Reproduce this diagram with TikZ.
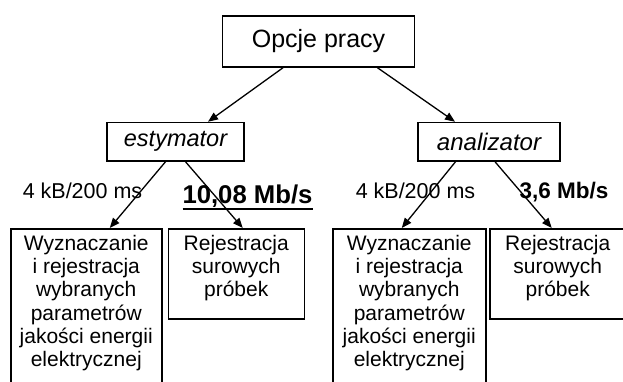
\documentclass[tikz,border=0pt]{standalone}
\usepackage{fontspec}
\setmainfont{Liberation Sans}
\usetikzlibrary{arrows.meta}
\newcommand\myul[1]{\setbox0\hbox{#1}\rlap{\rule[-6.4pt]{\wd0}{2.4pt}}\box0}
\begin{document}
\begin{tikzpicture}[x=1pt,y=-1pt,
  box/.style={draw,line width=1.5pt,inner sep=0pt},
  arr/.style={line width=1.3pt,-{Triangle[length=10pt,width=8pt]}},
  bodytxt/.style={font=\fontsize{21}{23.2}\selectfont,align=center,inner sep=0pt},
  lab/.style={font=\fontsize{21.5}{24}\selectfont,inner sep=0pt,anchor=base}]
\useasboundingbox (0,0) rectangle (623,381);
\clip (0,0) rectangle (623,381);
\node[box,minimum width=192pt,minimum height=51pt,font=\fontsize{25}{30}\selectfont] (top) at (318.5,41.5) {Opcje pracy};
\node[box,minimum width=137pt,minimum height=38.5pt,font=\fontsize{23.5}{26}\selectfont\itshape] (est) at (175.5,141.75) {estymator};
\node[box,minimum width=142pt,minimum height=38.5pt,font=\fontsize{24}{26}\selectfont\itshape] (ana) at (489,141.75) {analizator};
\node[box,anchor=north west,minimum width=151pt,minimum height=180pt] (b1) at (10,228) {};
\node[box,anchor=north west,minimum width=136pt,minimum height=90pt] (b2) at (167.5,228) {};
\node[box,anchor=north west,minimum width=153pt,minimum height=180pt] (b3) at (332,228) {};
\node[box,anchor=north west,minimum width=136pt,minimum height=90pt] (b4) at (489,228) {};
\node[bodytxt,anchor=north] (t1) at ([yshift=-7pt]b1.north) {Wyznaczanie\\i rejestracja\\wybranych\\parametrów\\jakości energii\\elektrycznej};
\node[bodytxt,anchor=north] (t2) at ([yshift=-7pt]b2.north) {Rejestracja\\surowych\\próbek};
\node[bodytxt,anchor=north] (t3) at ([yshift=-7pt]b3.north) {Wyznaczanie\\i rejestracja\\wybranych\\parametrów\\jakości energii\\elektrycznej};
\node[bodytxt,anchor=north] (t4) at ([yshift=-7pt]b4.north) {Rejestracja\\surowych\\próbek};
\node[lab] (l1) at (82.5,198) {4 kB/200 ms};
\node[lab,font=\fontsize{25.7}{28}\selectfont\bfseries] (l2) at (247.5,203.5) {\myul{10,08 Mb/s}};
\node[lab] (l3) at (415.5,198) {4 kB/200 ms};
\node[lab,font=\fontsize{22.5}{24}\selectfont\bfseries] (l4) at (564,198) {3,6 Mb/s};
\draw[arr] ([xshift=-35.5pt]top.south) -- ([xshift=32.5pt]est.north);
\draw[arr] ([xshift=59pt]top.south) -- ([xshift=-34pt]ana.north);
\draw[arr] ([xshift=-10pt]est.south) -- ([xshift=23.5pt]b1.north);
\draw[arr] ([xshift=10pt]est.south) -- ([xshift=6.5pt]b2.north);
\draw[arr] ([xshift=-33.5pt]ana.south) -- ([xshift=-7.5pt]b3.north);
\draw[arr] ([xshift=6pt]ana.south) -- ([xshift=-6pt]b4.north);
\end{tikzpicture}
\end{document}
